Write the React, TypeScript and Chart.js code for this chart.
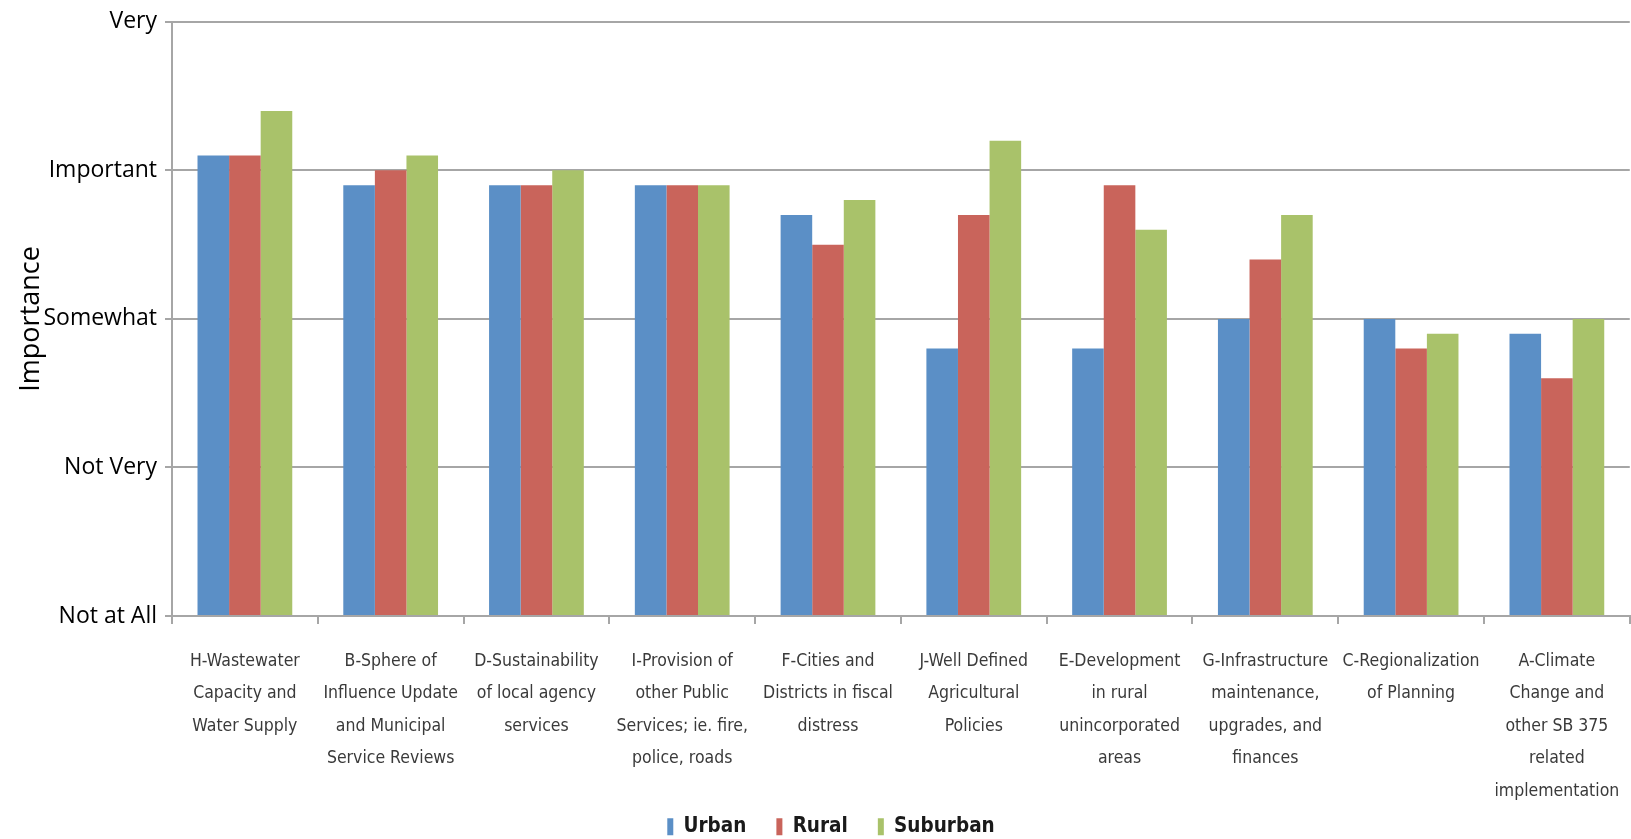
import React, { useEffect, useRef } from 'react';
import { Chart, registerables } from 'chart.js';

Chart.register(...registerables);

const categories: string[][] = [
  ['H-Wastewater', 'Capacity and', 'Water Supply'],
  ['B-Sphere of', 'Influence Update', 'and Municipal', 'Service Reviews'],
  ['D-Sustainability', 'of local agency', 'services'],
  ['I-Provision of', 'other Public', 'Services; ie. fire,', 'police, roads'],
  ['F-Cities and', 'Districts in fiscal', 'distress'],
  ['J-Well Defined', 'Agricultural', 'Policies'],
  ['E-Development', 'in rural', 'unincorporated', 'areas'],
  ['G-Infrastructure', 'maintenance,', 'upgrades, and', 'finances'],
  ['C-Regionalization', 'of Planning'],
  ['A-Climate', 'Change and', 'other SB 375', 'related', 'implementation'],
];

const urban = [3.1, 2.9, 2.9, 2.9, 2.7, 1.8, 1.8, 2.0, 2.0, 1.9];
const rural = [3.1, 3.0, 2.9, 2.9, 2.5, 2.7, 2.9, 2.4, 1.8, 1.6];
const suburban = [3.4, 3.1, 3.0, 2.9, 2.8, 3.2, 2.6, 2.7, 1.9, 2.0];

const yTickLabels = ['Not at All', 'Not Very', 'Somewhat', 'Important', 'Very'];

const NARROW = "'DejaVu Sans Condensed', sans-serif";
const SANS = "'Open Sans', sans-serif";

const CANVAS_W = 1640;
const CANVAS_H = 847;
const PAD_LEFT = 22;

// lets the last line of the longest category label extend past the axis box
const unclipXLabels = {
  id: 'unclipXLabels',
  afterLayout(chart: any) {
    const x = chart.scales.x;
    if (x) x.bottom = chart.height;
  },
};

export default function App() {
  const ref = useRef<HTMLCanvasElement | null>(null);

  useEffect(() => {
    let chart: Chart | null = null;
    let cancelled = false;
    const make = () => {
      if (cancelled || !ref.current) return;
      chart = new Chart(ref.current, {
        type: 'bar',
        data: {
          labels: categories,
          datasets: [
            { label: 'Urban', data: urban, backgroundColor: '#5B8FC6' },
            { label: 'Rural', data: rural, backgroundColor: '#C9645B' },
            { label: 'Suburban', data: suburban, backgroundColor: '#A9C26A' },
          ],
        },
        plugins: [unclipXLabels],
        options: {
          animation: false,
          responsive: false,
          devicePixelRatio: 1,
          layout: { padding: { top: 19, left: PAD_LEFT, right: 0, bottom: 0 } },
          datasets: { bar: { categoryPercentage: 0.65, barPercentage: 1 } },
          plugins: {
            legend: {
              position: 'bottom',
              labels: {
                boxWidth: 6,
                boxHeight: 17,
                padding: 30,
                color: '#1a1a1a',
                font: { family: NARROW, size: 20.5, weight: 'bold' },
              },
            },
            tooltip: { enabled: false },
          },
          scales: {
            x: {
              grid: { drawOnChartArea: false, drawTicks: true, tickLength: 8, color: '#A6A6A6', lineWidth: 2 },
              border: { color: '#A6A6A6', width: 2 },
              ticks: {
                autoSkip: false,
                maxRotation: 0,
                minRotation: 0,
                padding: 20.75,
                color: '#3a3a3a',
                font: { family: NARROW, size: 17.5, lineHeight: 32.5 / 17.5 },
              },
              afterFit: (s: any) => {
                s.height = 170.5;
              },
            },
            y: {
              min: 0,
              max: 4,
              ticks: {
                stepSize: 1,
                padding: 8,
                color: '#000',
                font: { family: SANS, size: 23 },
                callback: (v: any) => yTickLabels[v as number] ?? '',
              },
              grid: { color: '#A6A6A6', lineWidth: 2, tickLength: 7 },
              border: { color: '#A6A6A6', width: 2 },
              title: {
                display: true,
                text: 'Importance',
                color: '#000',
                font: { family: SANS, size: 27 },
                padding: { top: 15 - PAD_LEFT, bottom: 0 },
              },
              afterFit: (s: any) => {
                s.width = 172 - PAD_LEFT;
              },
            },
          },
        },
      });
    };
    const fonts = [
      `bold 20px 'DejaVu Sans Condensed'`,
      `17px 'DejaVu Sans Condensed'`,
      `23px 'Open Sans'`,
    ];
    Promise.all(fonts.map((f) => (document as any).fonts.load(f).catch(() => null)))
      .then(make, make);
    return () => {
      cancelled = true;
      if (chart) chart.destroy();
    };
  }, []);

  return (
    <div style={{ position: 'fixed', left: 0, top: 0, width: '100vw', height: '100vh', overflow: 'hidden', background: '#fff' }}>
      <canvas ref={ref} width={CANVAS_W} height={CANVAS_H} style={{ display: 'block', width: CANVAS_W, height: CANVAS_H }} />
    </div>
  );
}
